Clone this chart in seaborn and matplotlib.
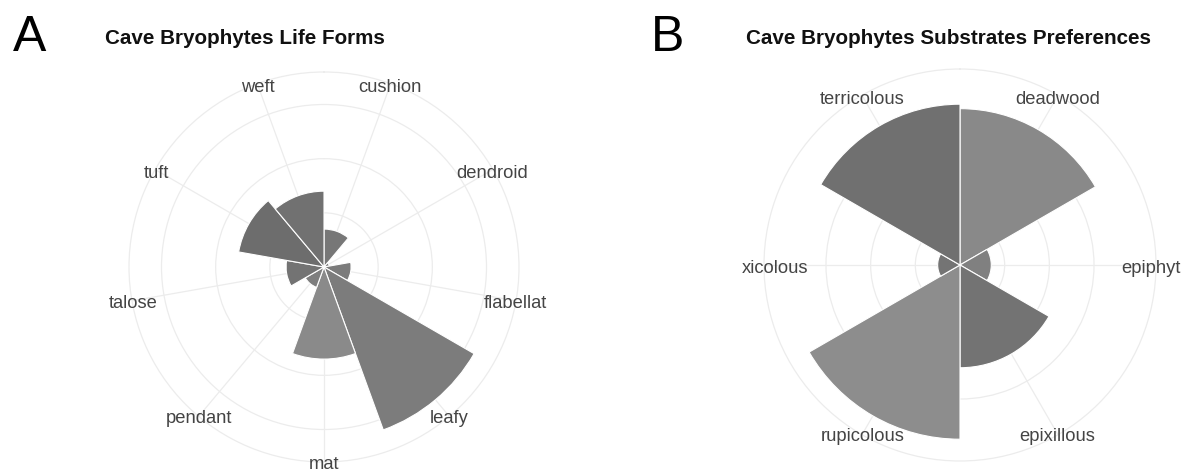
import numpy as np
import pandas as pd
import matplotlib
matplotlib.use("Agg")
import matplotlib.pyplot as plt
import seaborn as sns

# data
life_forms = ["cushion", "dendroid", "flabellat", "leafy", "mat",
              "pendant", "talose", "tuft", "weft"]
life_counts = [7, 1, 5, 32, 17, 4, 7, 16, 14]
life_colors = ["#777777", "#7a7a7a", "#7b7b7b", "#7c7c7c", "#8a8a8a",
               "#7e7e7e", "#737373", "#6d6d6d", "#717171"]

substrates = ["deadwood", "epiphyt", "epixillous", "rupicolous",
              "xicolous", "terricolous"]
substrate_counts = [35, 7, 23, 39, 5, 36]
substrate_colors = ["#898989", "#808080", "#737373", "#8d8d8d",
                    "#747474", "#707070"]

r_breaks = [10, 20, 30]

sns.set_style("white")
plt.rcParams["font.family"] = ["Liberation Sans", "DejaVu Sans"]

fig = plt.figure(figsize=(11.84, 4.72), dpi=100)
ax_a = fig.add_axes([129 / 1184, 10 / 472, 390 / 1184, 390 / 472], projection="polar")
ax_b = fig.add_axes([764 / 1184, 11 / 472, 392 / 1184, 392 / 472], projection="polar")

# the left label in B is cut off in the original ("sa" missing), so it sits a bit right;
# epiphyt is nudged in so it stays inside the figure
label_shift = {"xicolous": 7, "epiphyt": -3}


def rose(ax, cats, vals, cols):
    n = len(cats)
    step = 2 * np.pi / n
    theta = step * np.arange(n) + step / 2
    df = pd.DataFrame({"theta": theta, "value": vals, "cat": cats})
    ax.set_theta_zero_location("N")
    ax.set_theta_direction(-1)
    ax.set_axisbelow(True)
    sns.barplot(data=df, x="theta", y="value", hue="cat", native_scale=True,
                palette=dict(zip(cats, cols)), width=1, errorbar=None,
                edgecolor="white", linewidth=0.8, legend=False, ax=ax)
    rmax = max(vals) * 0.45 / 0.4
    ax.set_ylim(0, rmax)
    ax.set_xlim(0, 2 * np.pi)
    ax.set_yticks(r_breaks)
    ax.set_yticklabels([])
    ax.set_xticks(theta)
    ax.set_xticklabels([])
    ax.grid(True, color="#ececec", linewidth=0.9)
    ax.spines["polar"].set_color("#ececec")
    ax.spines["polar"].set_linewidth(0.9)
    ax.set_xlabel("")
    ax.set_ylabel("")
    for t, c in zip(theta, cats):
        ax.annotate(c, (t, rmax * 0.995), xytext=(label_shift.get(c, 0), -2.2),
                    textcoords="offset points", ha="center", va="center",
                    fontsize=13.2, color="#444444", annotation_clip=False)


rose(ax_a, life_forms, life_counts, life_colors)
rose(ax_b, substrates, substrate_counts, substrate_colors)

fig.text(245 / 1184, 1 - 38 / 472, "Cave Bryophytes Life Forms",
         ha="center", va="center", fontsize=14.9, fontweight="bold", color="#111111")
fig.text(948 / 1184, 1 - 38 / 472, "Cave Bryophytes Substrates Preferences",
         ha="center", va="center", fontsize=14.9, fontweight="bold", color="#111111")
fig.text(30 / 1184, 1 - 38 / 472, "A", ha="center", va="center", fontsize=36, color="black")
fig.text(668 / 1184, 1 - 38 / 472, "B", ha="center", va="center", fontsize=36, color="black")

fig.savefig("out.png", dpi=100)
